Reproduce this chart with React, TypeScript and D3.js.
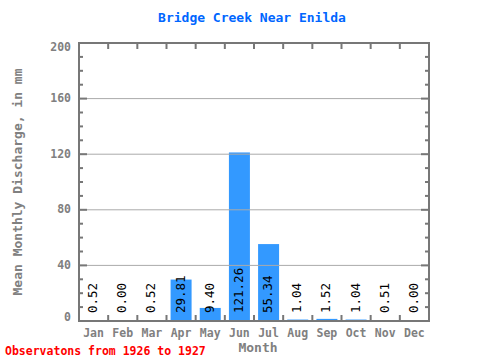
import React from 'react';
import * as d3 from 'd3';

const months = ['Jan', 'Feb', 'Mar', 'Apr', 'May', 'Jun', 'Jul', 'Aug', 'Sep', 'Oct', 'Nov', 'Dec'];
const discharge = [0.52, 0.0, 0.52, 29.81, 9.4, 121.26, 55.34, 1.04, 1.52, 1.04, 0.51, 0.0];
const yTicks = [0, 40, 80, 120, 160, 200];
const yMinorTicks = d3.range(0, 201, 10);

const W = 480;
const H = 360;
const margin = { top: 43, right: 51, bottom: 39, left: 79 };
const mono = '"DejaVu Sans Mono", monospace';
const axisGrey = '#777777';

export default function App() {
  const x = d3.scaleBand<string>()
    .domain(months)
    .range([margin.left, W - margin.right])
    .paddingInner(0.28)
    .paddingOuter(0.14);
  const xEdge = d3.scaleLinear()
    .domain([0, months.length])
    .range([margin.left, W - margin.right]);
  const y = d3.scaleLinear()
    .domain([0, 200])
    .range([H - margin.bottom, margin.top]);

  const left = margin.left;
  const right = W - margin.right;
  const top = margin.top;
  const bottom = H - margin.bottom;

  // end labels sit just inside the frame
  const labelY = (t: number) => (t === 200 ? y(t) + 4 : t === 0 ? y(t) - 4 : y(t));

  return (
    <svg width={W} height={H} style={{ position: 'absolute', left: 0, top: 0, background: '#fff' }}>
      <text x={252} y={22} textAnchor="middle" fill="#0066ff" fontFamily={mono} fontWeight="bold" fontSize={13}>
        Bridge Creek Near Enilda
      </text>

      {/* bars */}
      {discharge.map((v, i) => (
        <rect key={months[i]} x={x(months[i])} y={y(v)} width={x.bandwidth()} height={y(0) - y(v)} fill="#3399ff" />
      ))}

      {/* grid lines over bars */}
      {yTicks.filter(t => t > 0 && t < 200).map(t => (
        <line key={t} x1={left} x2={right} y1={y(t)} y2={y(t)} stroke="#aaaaaa" strokeWidth={1} />
      ))}

      {/* value labels */}
      {discharge.map((v, i) => {
        const cx = (x(months[i]) || 0) + x.bandwidth() / 2;
        return (
          <text key={months[i]} transform={`translate(${cx},${bottom - 8}) rotate(-90)`}
            dominantBaseline="middle" fontFamily={mono} fontSize={12.5} fill="#000">
            {v.toFixed(2)}
          </text>
        );
      })}

      {/* minor ticks left / right */}
      {yMinorTicks.map(t => (
        <g key={t}>
          <line x1={left} x2={left + (t % 40 === 0 ? 8 : 4)} y1={y(t)} y2={y(t)} stroke={axisGrey} strokeWidth={2} />
          <line x1={right} x2={right - (t % 40 === 0 ? 8 : 4)} y1={y(t)} y2={y(t)} stroke={axisGrey} strokeWidth={2} />
        </g>
      ))}

      {/* band ticks top / bottom */}
      {d3.range(1, months.length).map(i => (
        <g key={i}>
          <line x1={xEdge(i)} x2={xEdge(i)} y1={top} y2={top + 6} stroke={axisGrey} strokeWidth={2} />
          <line x1={xEdge(i)} x2={xEdge(i)} y1={bottom} y2={bottom - 6} stroke={axisGrey} strokeWidth={2} />
        </g>
      ))}

      <rect x={left} y={top} width={right - left} height={bottom - top} fill="none" stroke={axisGrey} strokeWidth={2} />

      {/* y tick labels */}
      {yTicks.map(t => (
        <text key={t} x={71} y={labelY(t)} textAnchor="end" dominantBaseline="middle"
          fontFamily={mono} fontWeight="bold" fontSize={11.5} fill="#808080">
          {t}
        </text>
      ))}

      {/* month labels */}
      {months.map(m => (
        <text key={m} x={(x(m) || 0) + x.bandwidth() / 2} y={337} textAnchor="middle"
          fontFamily={mono} fontWeight="bold" fontSize={11.5} fill="#808080">
          {m}
        </text>
      ))}

      <text x={258} y={352} textAnchor="middle" fontFamily={mono} fontWeight="bold" fontSize={13} fill="#808080">
        Month
      </text>

      <text transform={`translate(22,${(top + bottom) / 2}) rotate(-90)`} textAnchor="middle"
        fontFamily={mono} fontWeight="bold" fontSize={13} fill="#808080">
        Mean Monthly Discharge, in mm
      </text>

      <text x={5} y={355} fontFamily={mono} fontWeight="bold" fontSize={11.5} fill="#ff0000">
        Observatons from 1926 to 1927
      </text>
    </svg>
  );
}
